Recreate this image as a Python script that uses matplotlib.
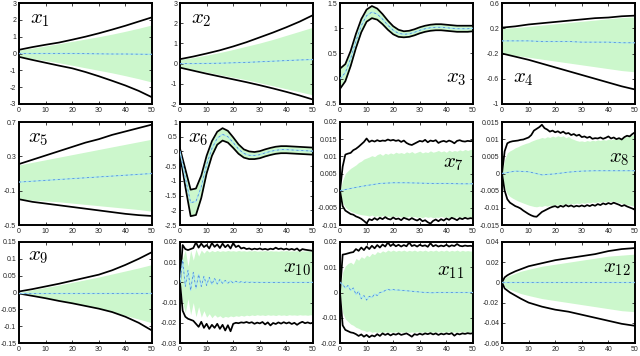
import numpy as np
import matplotlib
matplotlib.use("Agg")
import matplotlib.pyplot as plt
from matplotlib.ticker import FuncFormatter

plt.rcParams['font.family'] = ['Liberation Sans', 'DejaVu Sans']
plt.rcParams['mathtext.fontset'] = 'cm'
plt.rcParams['axes.unicode_minus'] = False

T51 = list(range(51))
T26 = list(range(0, 51, 2))
T11 = list(range(0, 51, 5))
T15 = [0, 1, 2, 3, 5, 7, 10, 15, 20, 25, 30, 35, 40, 45, 50]

# ---------------- x1 ----------------
x1_mean = [0, 0, 0, 0, 0, -0.01, -0.02, -0.03, -0.03, -0.04, -0.05]
x1_bu = [0.22, 0.38, 0.52, 0.65, 0.82, 1.0, 1.2, 1.42, 1.65, 1.9, 2.15]
x1_bl = [-0.2, -0.38, -0.55, -0.72, -0.88, -1.1, -1.35, -1.62, -1.9, -2.22, -2.6]
x1_gu = [0.2, 0.32, 0.45, 0.58, 0.72, 0.86, 1.0, 1.15, 1.32, 1.5, 1.7]
x1_gl = [-0.2, -0.3, -0.42, -0.55, -0.7, -0.85, -1.0, -1.15, -1.32, -1.5, -1.7]

# ---------------- x2 ----------------
x2_mean = [0, 0, 0.01, 0.02, 0.04, 0.06, 0.09, 0.12, 0.15, 0.18, 0.2]
x2_bu = [0.22, 0.35, 0.5, 0.66, 0.85, 1.06, 1.3, 1.54, 1.8, 2.08, 2.4]
x2_bl = [-0.2, -0.35, -0.5, -0.64, -0.78, -0.92, -1.07, -1.23, -1.4, -1.58, -1.78]
x2_gu = [0.2, 0.3, 0.42, 0.55, 0.7, 0.86, 1.02, 1.2, 1.4, 1.6, 1.8]
x2_gl = [-0.2, -0.3, -0.42, -0.55, -0.68, -0.8, -0.95, -1.1, -1.25, -1.4, -1.55]

# ---------------- x3 ----------------
x3_mean = [0.0, 0.12, 0.4, 0.75, 1.05, 1.25, 1.32, 1.28, 1.18, 1.06, 0.96, 0.9, 0.88,
           0.89, 0.92, 0.96, 0.99, 1.01, 1.02, 1.02, 1.01, 1.0, 0.99, 0.99, 0.99, 1.0]
x3_bu = [0.2, 0.29, 0.55, 0.89, 1.18, 1.37, 1.44, 1.39, 1.28, 1.15, 1.04, 0.97, 0.94,
         0.95, 0.98, 1.02, 1.05, 1.07, 1.08, 1.08, 1.07, 1.06, 1.05, 1.05, 1.05, 1.05]
x3_bl = [-0.2, -0.05, 0.25, 0.61, 0.92, 1.13, 1.2, 1.17, 1.08, 0.97, 0.88, 0.83, 0.82,
         0.83, 0.86, 0.9, 0.93, 0.95, 0.96, 0.96, 0.95, 0.94, 0.93, 0.93, 0.93, 0.94]

# ---------------- x4 ----------------
x4_mean = [0, 0, 0, -0.01, -0.01, -0.01, -0.02, -0.02, -0.02, -0.03, -0.03]
x4_bu = [0.21, 0.23, 0.26, 0.28, 0.3, 0.32, 0.34, 0.36, 0.37, 0.39, 0.4]
x4_bl = [-0.2, -0.25, -0.3, -0.36, -0.42, -0.48, -0.54, -0.6, -0.66, -0.72, -0.77]
x4_gu = [0.2, 0.21, 0.23, 0.25, 0.27, 0.29, 0.31, 0.33, 0.35, 0.37, 0.38]
x4_gl = [-0.2, -0.23, -0.26, -0.29, -0.32, -0.35, -0.38, -0.41, -0.44, -0.47, -0.49]

# ---------------- x5 ----------------
x5_mean = [0, 0.01, 0.02, 0.03, 0.04, 0.05, 0.06, 0.07, 0.08, 0.09, 0.1]
x5_bu = [0.21, 0.26, 0.31, 0.36, 0.41, 0.46, 0.5, 0.55, 0.59, 0.63, 0.67]
x5_bl = [-0.2, -0.23, -0.25, -0.27, -0.29, -0.31, -0.33, -0.35, -0.37, -0.385, -0.395]
x5_gu = [0.2, 0.23, 0.26, 0.29, 0.32, 0.35, 0.38, 0.41, 0.44, 0.47, 0.5]
x5_gl = [-0.2, -0.21, -0.22, -0.23, -0.245, -0.26, -0.275, -0.29, -0.305, -0.32, -0.34]

# ---------------- x6 ----------------
x6_mean = [0.0, -0.9, -1.74, -1.7, -1.2, -0.45, 0.1, 0.45, 0.58, 0.5, 0.3, 0.08, -0.07,
           -0.13, -0.14, -0.11, -0.05, 0.0, 0.04, 0.06, 0.06, 0.05, 0.04, 0.03, 0.02, 0.01]
x6_bu = [0.1, -0.6, -1.3, -1.26, -0.82, -0.15, 0.35, 0.67, 0.79, 0.7, 0.48, 0.24, 0.07,
         0.0, -0.02, 0.01, 0.07, 0.12, 0.16, 0.18, 0.18, 0.17, 0.16, 0.15, 0.14, 0.13]
x6_bl = [-0.1, -1.2, -2.2, -2.16, -1.58, -0.75, -0.15, 0.23, 0.37, 0.3, 0.12, -0.08, -0.21,
         -0.26, -0.26, -0.23, -0.17, -0.12, -0.08, -0.06, -0.06, -0.07, -0.08, -0.09, -0.1, -0.11]

# ---------------- x7 ----------------
x7_mean = [0.0, 0.0008, 0.0015, 0.0021, 0.0023, 0.0023, 0.0022, 0.0021, 0.0021, 0.002, 0.002]
x7_bu = [0.0, 0.007, 0.0105, 0.0108, 0.011, 0.0118, 0.0122, 0.0128, 0.0135, 0.0142, 0.0152,
         0.0142, 0.0146, 0.0143, 0.0147, 0.0144, 0.0146, 0.0145, 0.0149, 0.0146, 0.0148,
         0.0145, 0.0147, 0.0142, 0.0146, 0.0139, 0.0135, 0.0133, 0.0137, 0.0141, 0.0145,
         0.0143, 0.0148, 0.0141, 0.0146, 0.0144, 0.0147, 0.0139, 0.0143, 0.0145, 0.0142,
         0.0146, 0.0143, 0.0138, 0.0145, 0.0147, 0.0144, 0.0143, 0.0145, 0.0144, 0.0145]
x7_bl = [0.0, -0.0045, -0.0058, -0.0063, -0.0068, -0.007, -0.0075, -0.0078, -0.0082, -0.0088,
         -0.0095, -0.0083, -0.0086, -0.008, -0.0085, -0.0079, -0.0083, -0.0077, -0.0082,
         -0.0084, -0.0078, -0.0083, -0.0081, -0.0086, -0.0079, -0.0082, -0.0085, -0.008,
         -0.0084, -0.0087, -0.0082, -0.0089, -0.0086, -0.0092, -0.0096, -0.0088, -0.0084,
         -0.0089, -0.0083, -0.0087, -0.0081, -0.0085, -0.0079, -0.0082, -0.0086, -0.008,
         -0.0083, -0.0079, -0.0082, -0.008, -0.0081]
x7_gu = [0.0, 0.003, 0.005, 0.0058, 0.0065, 0.007, 0.0075, 0.0082, 0.0086, 0.0092, 0.0095,
         0.0098, 0.0102, 0.0099, 0.0105, 0.0108, 0.0103, 0.0109, 0.0106, 0.011, 0.0107,
         0.0112, 0.0109, 0.0111, 0.0108, 0.0113, 0.011, 0.0114, 0.0109, 0.0112, 0.0115,
         0.011, 0.0113, 0.0111, 0.0116, 0.0112, 0.0114, 0.0117, 0.0113, 0.0116, 0.0112,
         0.0118, 0.0114, 0.0117, 0.0115, 0.0119, 0.0116, 0.012, 0.0117, 0.012, 0.0121]
x7_gl = [0.0, -0.0035, -0.0048, -0.0055, -0.006, -0.0063, -0.0066, -0.0068, -0.007, -0.0071,
         -0.0072, -0.0074, -0.0071, -0.0075, -0.0073, -0.0076, -0.0072, -0.0075, -0.0074,
         -0.0077, -0.0073, -0.0076, -0.0074, -0.0077, -0.0075, -0.0078, -0.0074, -0.0077,
         -0.0075, -0.0078, -0.0076, -0.0079, -0.0075, -0.0078, -0.0076, -0.0079, -0.0077,
         -0.0078, -0.0075, -0.0078, -0.0076, -0.0079, -0.0077, -0.0078, -0.0076, -0.0079,
         -0.0077, -0.0078, -0.0076, -0.0078, -0.0077]

# ---------------- x8 ----------------
x8_mean = [0.0, 0.0007, 0.0005, -0.0004, -0.0001, 0.0004, 0.0007, 0.0008, 0.0008, 0.0008, 0.0008]
x8_bu = [0.0, 0.0065, 0.0088, 0.0092, 0.0094, 0.0095, 0.0096, 0.0098, 0.0099, 0.0102, 0.0105,
         0.0112, 0.0125, 0.013, 0.0135, 0.0142, 0.0132, 0.0128, 0.0122, 0.0125, 0.012,
         0.0123, 0.0118, 0.0122, 0.0116, 0.0118, 0.0112, 0.0115, 0.011, 0.0113, 0.0106,
         0.0108, 0.0104, 0.0107, 0.0101, 0.0103, 0.0102, 0.0105, 0.0101, 0.0104, 0.0108,
         0.0102, 0.0105, 0.01, 0.0103, 0.0099, 0.0106, 0.011, 0.0108, 0.0115, 0.012]
x8_bl = [0.0, -0.005, -0.0075, -0.0085, -0.009, -0.0095, -0.0098, -0.0102, -0.0108, -0.0113,
         -0.0118, -0.0122, -0.0125, -0.0126, -0.0119, -0.0112, -0.0108, -0.0104, -0.01,
         -0.0097, -0.0095, -0.0099, -0.0094, -0.0097, -0.0092, -0.0096, -0.0093, -0.0097,
         -0.0094, -0.0096, -0.0093, -0.0096, -0.0092, -0.0095, -0.0091, -0.0094, -0.0089,
         -0.0092, -0.0087, -0.009, -0.0086, -0.0089, -0.0085, -0.0088, -0.0091, -0.0095,
         -0.0092, -0.0096, -0.0099, -0.0102, -0.0106]
x8_gu = [0.0, 0.004, 0.006, 0.0066, 0.007, 0.0075, 0.0078, 0.0082, 0.0085, 0.0088, 0.009,
         0.0094, 0.0097, 0.01, 0.0102, 0.0105, 0.0103, 0.0107, 0.0105, 0.0109, 0.0106,
         0.011, 0.0107, 0.011, 0.0104, 0.0108, 0.0102, 0.0099, 0.0096, 0.0094, 0.0095,
         0.0093, 0.0096, 0.0094, 0.0097, 0.0095, 0.0098, 0.0096, 0.0099, 0.0097, 0.01,
         0.0098, 0.0101, 0.0099, 0.0103, 0.0101, 0.0105, 0.0107, 0.011, 0.0112, 0.0115]
x8_gl = [0.0, -0.004, -0.006, -0.0067, -0.0072, -0.0076, -0.008, -0.0083, -0.0086, -0.0089,
         -0.0092, -0.0094, -0.0096, -0.0097, -0.0095, -0.0096, -0.0093, -0.0095, -0.0092,
         -0.0094, -0.009, -0.0093, -0.0089, -0.0091, -0.0088, -0.009, -0.0087, -0.0089,
         -0.0086, -0.0088, -0.0085, -0.0087, -0.0084, -0.0086, -0.0083, -0.0085, -0.0082,
         -0.0084, -0.0081, -0.0083, -0.008, -0.0082, -0.008, -0.0083, -0.0085, -0.0087,
         -0.0089, -0.0091, -0.0092, -0.0094, -0.0095]

# ---------------- x9 ----------------
x9_mean = [0, 0, 0, 0, 0, 0, 0, 0, 0, 0, 0]
x9_bu = [0.003, 0.01, 0.018, 0.026, 0.035, 0.044, 0.053, 0.066, 0.082, 0.1, 0.12]
x9_bl = [-0.003, -0.01, -0.017, -0.025, -0.032, -0.04, -0.048, -0.058, -0.072, -0.09, -0.113]
x9_gu = [0.0, 0.008, 0.015, 0.022, 0.03, 0.038, 0.046, 0.055, 0.064, 0.073, 0.083]
x9_gl = [0.0, -0.008, -0.015, -0.023, -0.031, -0.04, -0.048, -0.058, -0.068, -0.079, -0.09]

# ---------------- x10 ----------------
x10_mean = [0.0, 0.011, -0.002, 0.006, -0.004, 0.005, -0.003, 0.004, -0.002, 0.003, -0.0015,
            0.0025, -0.001, 0.002, -0.0008, 0.0015, -0.0005, 0.001, -0.0004, 0.0008, -0.0003,
            0.0006, -0.0002, 0.0004, -0.0001, 0.0003, 0.0, 0.0002, 0.0, 0.0001, 0.0,
            0.0, 0.0, 0.0, 0.0, 0.0, 0.0, 0.0, 0.0, 0.0, 0.0,
            0.0, 0.0, 0.0, 0.0, 0.0, 0.0, 0.0, 0.0, 0.0, 0.0]
x10_bu = [0.0, 0.0185, 0.0165, 0.016, 0.0165, 0.017, 0.0198, 0.0172, 0.0192, 0.0175, 0.0185,
          0.0168, 0.0195, 0.0176, 0.0188, 0.017, 0.0192, 0.0174, 0.0186, 0.0168, 0.0195,
          0.0175, 0.0182, 0.0168, 0.0172, 0.0165, 0.0168, 0.0163, 0.0167, 0.0164, 0.0168,
          0.0163, 0.0166, 0.0162, 0.0167, 0.0164, 0.0172, 0.0165, 0.0168, 0.0163, 0.0167,
          0.0162, 0.0166, 0.0161, 0.0168, 0.0156, 0.0165, 0.0162, 0.016, 0.0158, 0.0156]
x10_bl = [0.0, -0.014, -0.017, -0.018, -0.0185, -0.019, -0.0205, -0.022, -0.0195, -0.0225,
          -0.0205, -0.023, -0.021, -0.0225, -0.0205, -0.023, -0.021, -0.0238, -0.0212,
          -0.0242, -0.0205, -0.02, -0.0202, -0.0198, -0.02, -0.0196, -0.0201, -0.0197,
          -0.0205, -0.0199, -0.0203, -0.0196, -0.0208, -0.0198, -0.0213, -0.0201, -0.0206,
          -0.0198, -0.0204, -0.0197, -0.0203, -0.0198, -0.0206, -0.02, -0.021, -0.0201,
          -0.0195, -0.0202, -0.0198, -0.0203, -0.0199]
x10_gu = [0.0, 0.012, 0.016, 0.008, 0.016, 0.011, 0.0165, 0.013, 0.016, 0.0145, 0.016,
          0.015, 0.0158, 0.0152, 0.0158, 0.0153, 0.0157, 0.0154, 0.0158, 0.0155, 0.0157,
          0.0154, 0.0158, 0.0155, 0.0157, 0.0154, 0.0157, 0.0155, 0.0158, 0.0154, 0.0156,
          0.0155, 0.0158, 0.0154, 0.0157, 0.0155, 0.0156, 0.0154, 0.0157, 0.0155, 0.0158,
          0.0154, 0.0156, 0.0155, 0.0157, 0.0154, 0.0156, 0.0155, 0.0157, 0.0154, 0.0156]
x10_gl = [0.0, -0.01, -0.015, -0.008, -0.016, -0.01, -0.017, -0.012, -0.0172, -0.014, -0.0172,
          -0.0155, -0.0175, -0.016, -0.0172, -0.0165, -0.0175, -0.0168, -0.0172, -0.0166,
          -0.017, -0.0165, -0.0168, -0.0163, -0.0167, -0.0162, -0.0165, -0.0161, -0.0164,
          -0.016, -0.0163, -0.0161, -0.0164, -0.016, -0.0163, -0.0161, -0.0164, -0.016,
          -0.0163, -0.0161, -0.0164, -0.016, -0.0162, -0.0161, -0.0163, -0.016, -0.0162,
          -0.0161, -0.0163, -0.016, -0.0162]

# ---------------- x11 ----------------
x11_mean = [0.004, 0.0032, 0.0018, 0.0028, 0.0008, 0.0018, -0.0008, 0.0005, -0.0025, -0.0012,
            -0.003, -0.0015, -0.002, -0.0006, -0.0012, 0.0, 0.0002, 0.0008, 0.0013, 0.0009,
            0.0012, 0.0009, 0.001, 0.0008, 0.0008, 0.0007, 0.0006, 0.0005, 0.0004, 0.0003,
            0.0002, 0.0001, 0.0, 0.0, -0.0001, -0.0001, 0.0, 0.0, 0.0, 0.0, 0.0,
            0.0, 0.0, 0.0, 0.0, 0.0, 0.0, 0.0, 0.0, 0.0, 0.0]
x11_bu = [0.0, 0.015, 0.0152, 0.0155, 0.0158, 0.016, 0.0172, 0.0165, 0.0178, 0.0168, 0.0182,
          0.0172, 0.0185, 0.0175, 0.0188, 0.0178, 0.019, 0.0182, 0.0198, 0.0184, 0.0192,
          0.0183, 0.0189, 0.0182, 0.0188, 0.0183, 0.0198, 0.0184, 0.0188, 0.0182, 0.0189,
          0.0184, 0.0187, 0.0181, 0.0195, 0.0183, 0.0188, 0.0182, 0.0186, 0.0183, 0.0189,
          0.0182, 0.0187, 0.0184, 0.0192, 0.0185, 0.0183, 0.0186, 0.0184, 0.0185, 0.0183]
x11_bl = [0.0, -0.013, -0.0148, -0.0153, -0.0158, -0.016, -0.0165, -0.0172, -0.0166, -0.0175,
          -0.0168, -0.0177, -0.017, -0.0174, -0.0165, -0.0172, -0.0162, -0.0168, -0.0163,
          -0.017, -0.0164, -0.0167, -0.0162, -0.0168, -0.0165, -0.0162, -0.0168, -0.0175,
          -0.0165, -0.0168, -0.0163, -0.0167, -0.0162, -0.0165, -0.0161, -0.0166, -0.0162,
          -0.0168, -0.0163, -0.0166, -0.0162, -0.0165, -0.0161, -0.0171, -0.0163, -0.0166,
          -0.0162, -0.0164, -0.0161, -0.0163, -0.0161]
x11_gu = [0.0, 0.008, 0.0105, 0.0115, 0.012, 0.0112, 0.0135, 0.0128, 0.0142, 0.0135, 0.0148,
          0.0142, 0.0155, 0.015, 0.0162, 0.0157, 0.0165, 0.016, 0.0168, 0.0163, 0.0168,
          0.0163, 0.0167, 0.0164, 0.0168, 0.0163, 0.0167, 0.0164, 0.0168, 0.0163, 0.0167,
          0.0164, 0.0168, 0.0163, 0.0167, 0.0164, 0.0168, 0.0163, 0.0167, 0.0164, 0.0168,
          0.0163, 0.0167, 0.0164, 0.0168, 0.0163, 0.0167, 0.0164, 0.0166, 0.0164, 0.0165]
x11_gl = [0.0, -0.008, -0.0105, -0.0115, -0.0125, -0.013, -0.0138, -0.0142, -0.0148, -0.015,
          -0.0155, -0.0152, -0.0158, -0.0155, -0.0158, -0.0156, -0.0159, -0.0155, -0.0158,
          -0.0156, -0.0158, -0.0155, -0.0158, -0.0156, -0.0158, -0.0155, -0.0158, -0.0156,
          -0.0158, -0.0155, -0.0158, -0.0156, -0.0158, -0.0155, -0.0158, -0.0156, -0.0158,
          -0.0155, -0.0158, -0.0156, -0.0158, -0.0155, -0.0158, -0.0156, -0.0158, -0.0155,
          -0.0157, -0.0156, -0.0157, -0.0156, -0.0156]

# ---------------- x12 ----------------
x12_mean = [0] * 15
x12_bu = [0, 0.005, 0.007, 0.0085, 0.011, 0.013, 0.016, 0.019, 0.022, 0.024, 0.026, 0.028, 0.031, 0.033, 0.034]
x12_bl = [0, -0.006, -0.008, -0.01, -0.013, -0.016, -0.02, -0.024, -0.027, -0.029, -0.032, -0.035, -0.038, -0.041, -0.043]
x12_gu = [0, 0.004, 0.006, 0.007, 0.009, 0.011, 0.013, 0.016, 0.018, 0.02, 0.022, 0.024, 0.026, 0.027, 0.028]
x12_gl = [0, -0.004, -0.006, -0.007, -0.009, -0.011, -0.013, -0.016, -0.018, -0.02, -0.022, -0.024, -0.026, -0.028, -0.029]

x_ticks = [0, 10, 20, 30, 40, 50]
y_ticks = [
    [-3, -2, -1, 0, 1, 2, 3],
    [-2, -1, 0, 1, 2, 3],
    [-0.5, 0, 0.5, 1, 1.5],
    [-1, -0.6, -0.2, 0.2, 0.6],
    [-0.5, -0.1, 0.3, 0.7],
    [-2.5, -2, -1.5, -1, -0.5, 0, 0.5, 1],
    [-0.01, -0.005, 0, 0.005, 0.01, 0.015, 0.02],
    [-0.015, -0.01, -0.005, 0, 0.005, 0.01, 0.015],
    [-0.15, -0.1, -0.05, 0, 0.05, 0.1, 0.15],
    [-0.03, -0.02, -0.01, 0, 0.01, 0.02],
    [-0.02, -0.01, 0, 0.01, 0.02],
    [-0.06, -0.04, -0.02, 0, 0.02, 0.04],
]
labels = [r'$x_{1}$', r'$x_{2}$', r'$x_{3}$', r'$x_{4}$', r'$x_{5}$', r'$x_{6}$',
          r'$x_{7}$', r'$x_{8}$', r'$x_{9}$', r'$x_{10}$', r'$x_{11}$', r'$x_{12}$']

panels = [
    (T11, x1_mean, x1_bu, x1_bl, T11, x1_gu, x1_gl),
    (T11, x2_mean, x2_bu, x2_bl, T11, x2_gu, x2_gl),
    (T26, x3_mean, x3_bu, x3_bl, T26, x3_bu, x3_bl),
    (T11, x4_mean, x4_bu, x4_bl, T11, x4_gu, x4_gl),
    (T11, x5_mean, x5_bu, x5_bl, T11, x5_gu, x5_gl),
    (T26, x6_mean, x6_bu, x6_bl, T26, x6_bu, x6_bl),
    (T51, x7_mean, x7_bu, x7_bl, T51, x7_gu, x7_gl),
    (T51, x8_mean, x8_bu, x8_bl, T51, x8_gu, x8_gl),
    (T11, x9_mean, x9_bu, x9_bl, T11, x9_gu, x9_gl),
    (T51, x10_mean, x10_bu, x10_bl, T51, x10_gu, x10_gl),
    (T51, x11_mean, x11_bu, x11_bl, T51, x11_gu, x11_gl),
    (T15, x12_mean, x12_bu, x12_bl, T15, x12_gu, x12_gl),
]
mean_t = {6: T11, 7: T11}

# label placement (axes fraction x, y, ha)
label_pos = [
    (0.08, 0.80, 'left'), (0.08, 0.80, 'left'), (0.95, 0.21, 'right'), (0.08, 0.21, 'left'),
    (0.07, 0.80, 'left'), (0.06, 0.80, 'left'), (0.93, 0.56, 'right'), (0.96, 0.61, 'right'),
    (0.07, 0.82, 'left'), (0.985, 0.70, 'right'), (0.935, 0.67, 'right'), (0.97, 0.70, 'right'),
]

fig = plt.figure(figsize=(6.4, 3.56), dpi=100)
lefts = [19, 180, 340, 502]
rows = [(3, 104), (122, 225), (242, 343)]
W, H = 640.0, 356.0
fmt = FuncFormatter(lambda v, p: ('%g' % round(v, 6)))

for i, (tt, mn, bu, bl, tg, gu, gl) in enumerate(panels):
    r, c = divmod(i, 4)
    top, bot = rows[r]
    ax = fig.add_axes([lefts[c] / W, 1 - bot / H, 133 / W, (bot - top) / H])
    ax.fill_between(tg, gl, gu, color='#ccf7cc', lw=0, zorder=1)
    ax.plot(tt, bu, color='black', lw=1.25, zorder=3)
    ax.plot(tt, bl, color='black', lw=1.25, zorder=3)
    mt = mean_t.get(i, tt)
    ax.plot(mt, mn, color='#a6e6f2', lw=0.9, zorder=4)
    ax.plot(mt, mn, color='#4a7fd0', lw=0.5, ls=(0, (3, 4)), zorder=5)
    yt = y_ticks[i]
    ax.set_xlim(0, 50)
    ax.set_ylim(yt[0], yt[-1])
    ax.set_xticks(x_ticks)
    ax.set_yticks(yt)
    ax.yaxis.set_major_formatter(fmt)
    ax.tick_params(direction='in', length=2.5, width=0.6, labelsize=5,
                   top=True, right=True, pad=2, colors='#262626')
    for s in ax.spines.values():
        s.set_linewidth(1.4)
        s.set_color('black')
    lx, ly, ha = label_pos[i]
    ax.text(lx, ly, labels[i], transform=ax.transAxes, ha=ha, va='baseline',
            fontsize=15, zorder=6)

fig.savefig('out.png', dpi=100)
